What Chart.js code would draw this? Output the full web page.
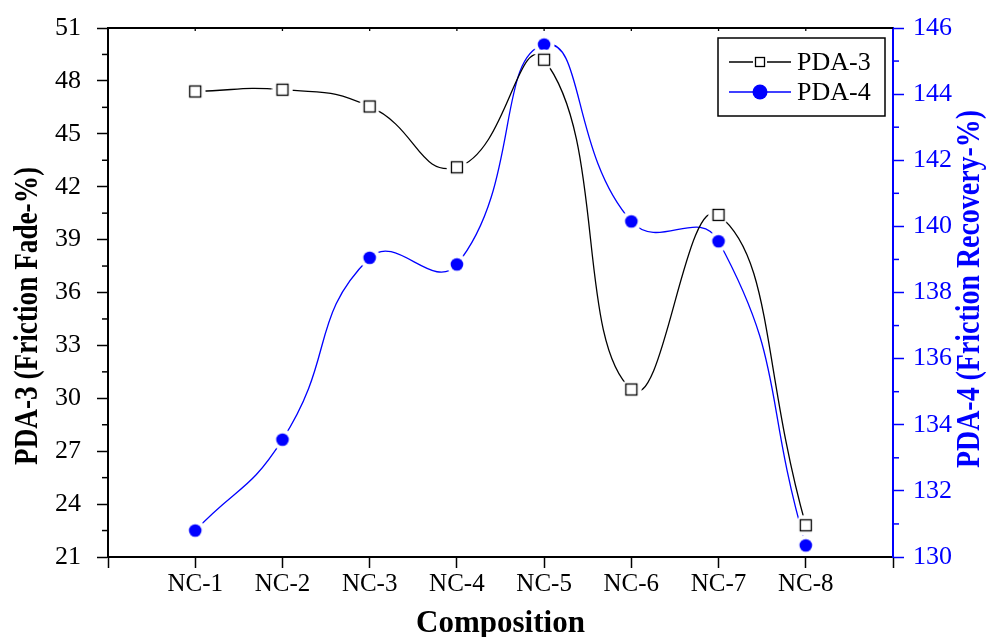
<!DOCTYPE html>
<html>
<head>
<meta charset="utf-8">
<script src="https://cdn.jsdelivr.net/npm/chart.js@4.4.1/dist/chart.umd.min.js"></script>
<style>
  html, body { margin: 0; padding: 0; background: #fff; }
  #wrap { width: 986px; height: 637px; }
</style>
</head>
<body>
<div id="wrap"><canvas id="c" width="986" height="637"></canvas></div>
<script>
// datos
const categories = ['NC-1', 'NC-2', 'NC-3', 'NC-4', 'NC-5', 'NC-6', 'NC-7', 'NC-8'];
const pda3 = [47.4, 47.5, 46.55, 43.1, 49.2, 30.5, 40.4, 22.8];
const pda4 = [130.8, 133.55, 139.05, 138.85, 145.5, 140.15, 139.55, 130.35];
const leftTicks = [21, 24, 27, 30, 33, 36, 39, 42, 45, 48, 51];
const rightTicks = [130, 132, 134, 136, 138, 140, 142, 144, 146];

const BLUE = '#0000ff';
const SERIF = '"Liberation Serif", "Times New Roman", serif';

// marcadores con un halo blanco (hueco en la linea como en Origin)
function makeMarker(kind, color) {
  const cv = document.createElement('canvas');
  cv.width = 22; cv.height = 22;
  const g = cv.getContext('2d');
  g.fillStyle = '#fff';
  g.beginPath(); g.arc(11, 11, 10.5, 0, Math.PI * 2); g.fill();
  if (kind === 'rect') {
    g.fillStyle = '#fff';
    g.fillRect(5.5, 5.5, 11, 11);
    g.strokeStyle = color; g.lineWidth = 1.3;
    g.strokeRect(5.5, 5.5, 11, 11);
  } else {
    g.fillStyle = color;
    g.beginPath(); g.arc(11, 11, 6.3, 0, Math.PI * 2); g.fill();
  }
  return cv;
}
const squareMark = makeMarker('rect', '#000');
const dotMark = makeMarker('circle', BLUE);

const toPts = arr => arr.map((v, i) => ({ x: i + 1, y: v }));

// texto vertical (abajo hacia arriba), comprimido a un largo dado
function vText(ctx, text, cx, cy, size, color, len) {
  ctx.save();
  ctx.font = 'bold ' + size + 'px ' + SERIF;
  const w = ctx.measureText(text).width;
  ctx.translate(cx, cy);
  ctx.rotate(-Math.PI / 2);
  ctx.scale(len / w, 1);
  ctx.fillStyle = color;
  ctx.textAlign = 'center';
  ctx.textBaseline = 'middle';
  ctx.fillText(text, 0, 0);
  ctx.restore();
}

// ticks menores + marco superior + titulos y + leyenda
const extras = {
  id: 'extras',
  afterDraw(chart) {
    const ctx = chart.ctx;
    const a = chart.chartArea;
    const yL = chart.scales.y, yR = chart.scales.y1, x = chart.scales.x;
    ctx.save();
    // marco superior
    ctx.strokeStyle = '#000'; ctx.lineWidth = 2;
    ctx.beginPath(); ctx.moveTo(a.left, a.top); ctx.lineTo(a.right, a.top); ctx.stroke();
    ctx.lineWidth = 1.3;
    for (let i = 1; i <= categories.length; i++) {
      const px = x.getPixelForValue(i);
      ctx.beginPath(); ctx.moveTo(px, a.top); ctx.lineTo(px, a.top + 3); ctx.stroke();
    }
    // ticks menores izquierda
    ctx.lineWidth = 1.5;
    for (let i = 0; i < leftTicks.length - 1; i++) {
      const py = yL.getPixelForValue((leftTicks[i] + leftTicks[i + 1]) / 2);
      ctx.beginPath(); ctx.moveTo(a.left, py); ctx.lineTo(a.left - 6, py); ctx.stroke();
    }
    // ticks menores derecha
    ctx.strokeStyle = BLUE;
    for (let i = 0; i < rightTicks.length - 1; i++) {
      const py = yR.getPixelForValue((rightTicks[i] + rightTicks[i + 1]) / 2);
      ctx.beginPath(); ctx.moveTo(a.right, py); ctx.lineTo(a.right + 6, py); ctx.stroke();
    }
    // titulos de los ejes y
    vText(ctx, 'PDA-3 (Friction Fade-%)', 28, 316, 34, '#000', 298);
    vText(ctx, 'PDA-4 (Friction Recovery-%)', 970, 289, 34, BLUE, 358);
    // leyenda
    const bx = 718, by = 38, bw = 167, bh = 78;
    ctx.fillStyle = '#fff';
    ctx.fillRect(bx, by, bw, bh);
    ctx.strokeStyle = '#000'; ctx.lineWidth = 1.5;
    ctx.strokeRect(bx, by, bw, bh);
    const rows = [
      { label: 'PDA-3', color: '#000', mark: 'rect', y: 62 },
      { label: 'PDA-4', color: BLUE, mark: 'circle', y: 92 }
    ];
    rows.forEach(r => {
      ctx.strokeStyle = r.color; ctx.lineWidth = 1.3;
      ctx.beginPath(); ctx.moveTo(729, r.y); ctx.lineTo(791, r.y); ctx.stroke();
      if (r.mark === 'rect') {
        ctx.fillStyle = '#fff';
        ctx.fillRect(753, r.y - 7, 14, 14);
        ctx.strokeStyle = '#000';
        ctx.strokeRect(755.5, r.y - 4.5, 9, 9);
      } else {
        ctx.fillStyle = r.color;
        ctx.beginPath(); ctx.arc(760, r.y, 7.5, 0, Math.PI * 2); ctx.fill();
      }
      ctx.fillStyle = '#000';
      ctx.font = '26px ' + SERIF;
      ctx.textBaseline = 'middle';
      ctx.textAlign = 'left';
      ctx.fillText(r.label, 797, r.y + 1);
    });
    ctx.restore();
  }
};

// ancho fijo del eje y sin relleno extra arriba/abajo
function fixY(w) {
  return s => { s.width = w; s.paddingTop = 0; s.paddingBottom = 0; };
}

const chart = new Chart(document.getElementById('c'), {
  type: 'line',
  data: {
    datasets: [
      {
        label: 'PDA-3',
        data: toPts(pda3),
        yAxisID: 'y',
        borderColor: '#000',
        borderWidth: 1.3,
        tension: 0.5,
        pointStyle: squareMark,
        pointRadius: 11,
        fill: false
      },
      {
        label: 'PDA-4',
        data: toPts(pda4),
        yAxisID: 'y1',
        borderColor: BLUE,
        borderWidth: 1.3,
        tension: 0.5,
        pointStyle: dotMark,
        pointRadius: 11,
        fill: false
      }
    ]
  },
  options: {
    responsive: false,
    animation: false,
    events: [],
    layout: { padding: { top: 28, left: 0, right: 0, bottom: 0 } },
    plugins: { legend: { display: false }, tooltip: { enabled: false } },
    scales: {
      x: {
        type: 'linear',
        min: 0, max: categories.length + 1,
        afterFit: s => { s.height = 80; s.paddingLeft = 0; s.paddingRight = 0; },
        afterBuildTicks: s => { s.ticks = Array.from({ length: categories.length + 2 }, (_, i) => ({ value: i })); },
        ticks: {
          autoSkip: false, maxRotation: 0,
          color: '#000',
          font: { family: SERIF, size: 25 },
          padding: 1,
          callback: v => categories[v - 1] || ''
        },
        grid: { drawOnChartArea: false, tickLength: 11, tickColor: '#000', tickWidth: 1.5 },
        border: { color: '#000', width: 2 },
        title: {
          display: true, text: 'Composition', color: '#000',
          font: { family: SERIF, size: 31, weight: 'bold' },
          padding: { top: 0, bottom: -6 }
        }
      },
      y: {
        position: 'left',
        min: 21, max: 51,
        afterFit: fixY(108),
        afterBuildTicks: s => { s.ticks = leftTicks.map(v => ({ value: v })); },
        ticks: { color: '#000', font: { family: SERIF, size: 26 }, padding: 16 },
        grid: { drawOnChartArea: false, tickLength: 11, tickColor: '#000', tickWidth: 1.5 },
        border: { color: '#000', width: 2 },
        title: { display: false }
      },
      y1: {
        position: 'right',
        min: 130, max: 146,
        afterFit: fixY(93),
        afterBuildTicks: s => { s.ticks = rightTicks.map(v => ({ value: v })); },
        ticks: { color: BLUE, font: { family: SERIF, size: 26 }, padding: 9 },
        grid: { drawOnChartArea: false, tickLength: 11, tickColor: BLUE, tickWidth: 1.5 },
        border: { color: BLUE, width: 2 },
        title: { display: false }
      }
    }
  },
  plugins: [extras]
});
</script>
</body>
</html>
